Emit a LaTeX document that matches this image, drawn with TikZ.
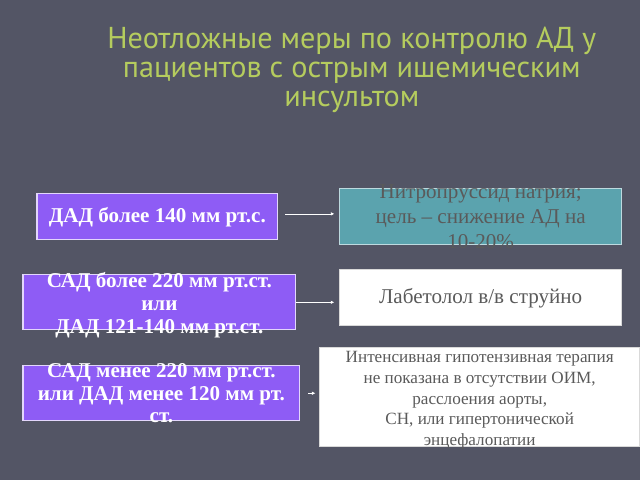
\documentclass[tikz,border=0pt]{standalone}
\usepackage{fontspec}
\setmainfont{Liberation Serif}
\newfontfamily\titlefont{PT Sans}
\usetikzlibrary{arrows.meta,fit}
\definecolor{bgslate}{HTML}{535565}
\definecolor{titlegreen}{HTML}{B5CC5E}
\definecolor{violetbox}{HTML}{8E5CF5}
\definecolor{tealbox}{HTML}{5BA3AE}
\definecolor{greytext}{HTML}{5A5A5A}

\begin{document}
\begin{tikzpicture}[x=0.025cm,y=-0.025cm,
  condbox/.style={fill=violetbox,draw=white!75!violetbox,line width=0.8pt,inner sep=0pt},
  actbox/.style={fill=white,draw=white!85!black,line width=0.6pt,inner sep=0pt},
  condtext/.style={text=white,font=\fontsize{15}{16.1}\selectfont\bfseries,align=center},
  acttext/.style={text=greytext,font=\fontsize{15}{17.7}\selectfont,align=center},
  link/.style={draw=white,line width=0.5pt,-{Latex[length=2.5pt,width=2.5pt]}}]

\fill[bgslate] (0,0) rectangle (640,480);

% title
\node[text=titlegreen,font=\titlefont\fontsize{21.5}{20.6}\selectfont,align=center] (title) at (352,70)
  {Неотложные меры по контролю АД у\\пациентов с острым ишемическим\\инсультом};

% left column
\node[condbox,fit={(37,194)(278,240)}] (c1) {};
\node[condbox,fit={(23,275)(296,330)}] (c2) {};
\node[condbox,fit={(23,366)(300,421)}] (c3) {};

% right column
\node[actbox,fill=tealbox,draw=white!60!tealbox,fit={(340,189)(622,245)}] (r1) {};
\node[actbox,fit={(340,270)(622,326)}] (r2) {};
\node[actbox,fit={(320,348)(640,447)}] (r3) {};

% texts
\node[condtext] (t1) at (c1.center) {ДАД более 140 мм рт.с.};
\node[condtext] (t2) at ([yshift=-3*0.025cm]c2.center) {САД более 220 мм рт.ст.\\или\\ДАД 121-140 мм рт.ст.};
\node[condtext] (t3) at (c3.center) {САД менее 220 мм рт.ст.\\или ДАД менее 120 мм рт.\\ст.};
\node[acttext] (u1) at (r1.center) {Нитропруссид натрия;\\цель -- снижение АД на\\10-20\%};
\node[acttext] (u2) at (r2.center) {Лабетолол в/в струйно};
\node[acttext,font=\fontsize{12.2}{14.7}\selectfont] (u3) at ([yshift=-3*0.025cm]r3.center)
  {Интенсивная гипотензивная терапия\\не показана в отсутствии ОИМ,\\расслоения аорты,\\СН, или гипертонической\\энцефалопатии};

% arrows
\draw[link,shorten <=7*0.025cm,shorten >=5*0.025cm] ([yshift=3*0.025cm]c1.east) -- ([yshift=3*0.025cm]c1.east -| r1.west);
\draw[link,shorten >=5*0.025cm] (c2.east) -- (c2.east -| r2.west);
\draw[link,shorten <=8*0.025cm,shorten >=4*0.025cm] (c3.east) -- (c3.east -| r3.west);
\end{tikzpicture}
\end{document}
